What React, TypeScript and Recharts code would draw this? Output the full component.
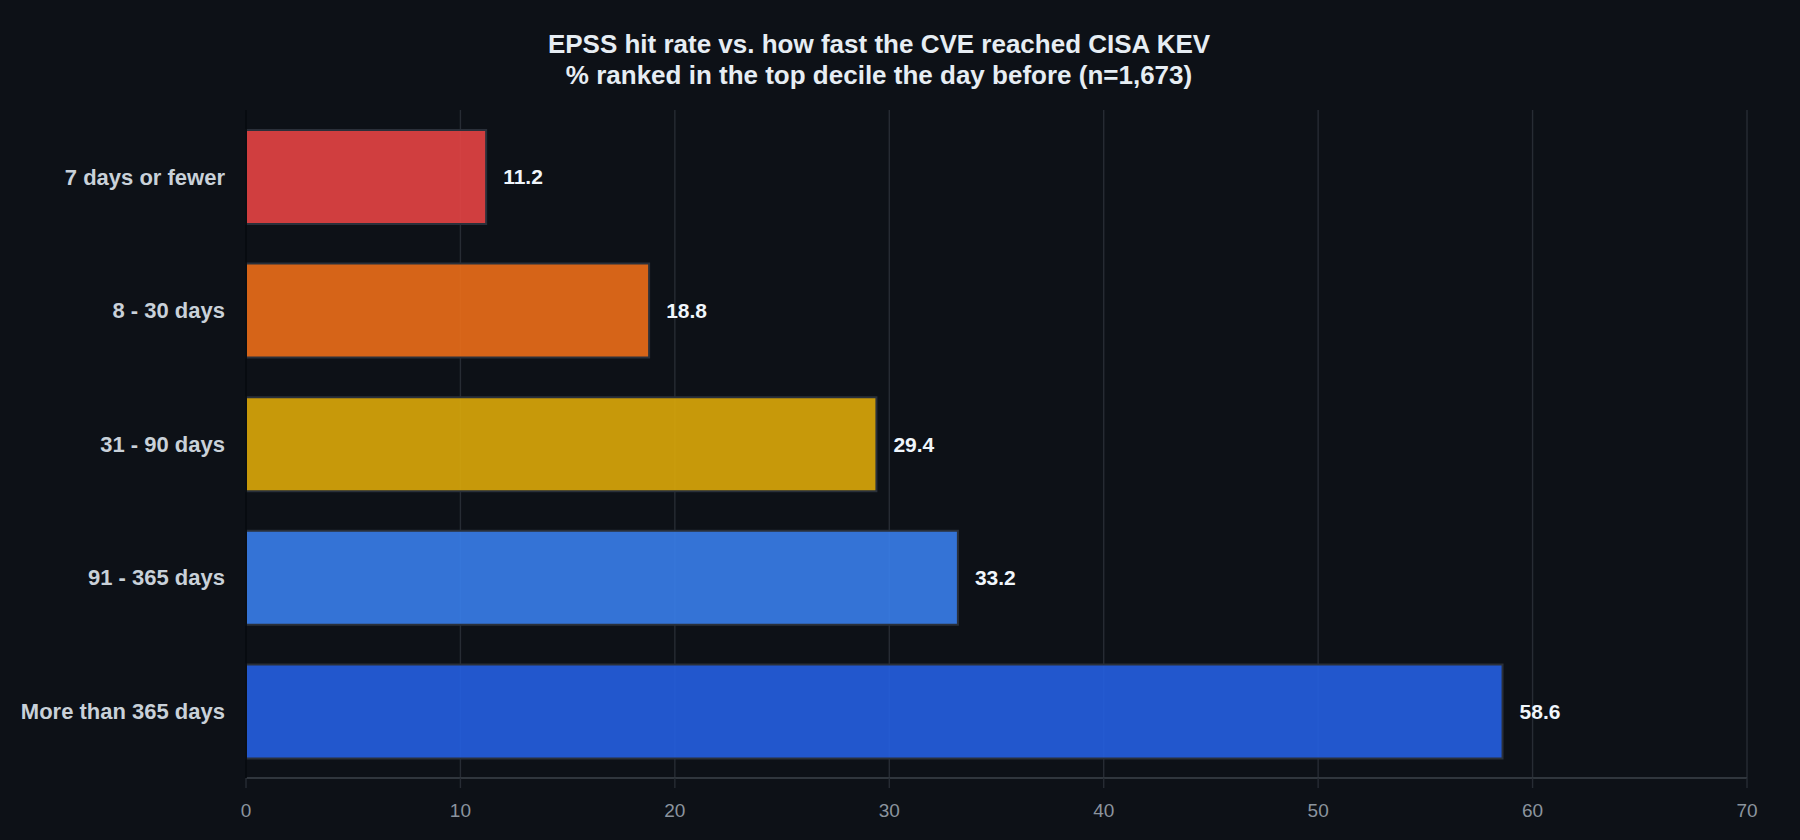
import React from "react";
import { BarChart, Bar, XAxis, YAxis, CartesianGrid, Cell, LabelList } from "recharts";

const categories = ["7 days or fewer", "8 - 30 days", "31 - 90 days", "91 - 365 days", "More than 365 days"];
const hitRates = [11.2, 18.8, 29.4, 33.2, 58.6];
const barColors = ["#e54444", "#ec6e18", "#dca909", "#397eeb", "#255fe1"];
const xTicks = [0, 10, 20, 30, 40, 50, 60, 70];
const titleLines = ["EPSS hit rate vs. how fast the CVE reached CISA KEV", "% ranked in the top decile the day before (n=1,673)"];

const data = categories.map((c, i) => ({ category: c, value: hitRates[i] }));

const FONT = '"Liberation Sans", Arial, Helvetica, sans-serif';

export default function App() {
  return (
    <div style={{ position: "fixed", left: 0, top: 0, width: 1800, height: 840, background: "#0d1117", fontFamily: FONT }}>
      <svg width={1800} height={120} style={{ position: "absolute", left: 0, top: 0 }}>
        <text x={879} y={53} textAnchor="middle" fill="#e6edf3" fontSize={26} fontWeight="bold" fontFamily={FONT}>{titleLines[0]}</text>
        <text x={879} y={84} textAnchor="middle" fill="#e6edf3" fontSize={26} fontWeight="bold" fontFamily={FONT}>{titleLines[1]}</text>
      </svg>
      <div style={{ position: "absolute", left: 0, top: 0 }}>
        <BarChart width={1800} height={840} data={data} layout="vertical" margin={{ top: 110, right: 53, bottom: 0, left: 0 }}>
          <CartesianGrid horizontal={false} stroke="#272c34" strokeWidth={1.4} />
          <XAxis
            type="number"
            domain={[0, 70]}
            ticks={xTicks}
            height={62}
            axisLine={{ stroke: "#30363d", strokeWidth: 2 }}
            tickLine={{ stroke: "#272c34", strokeWidth: 1.4 }}
            tickSize={10}
            tickMargin={16}
            tick={{ fill: "#8b949e", fontSize: 19, fontFamily: FONT }}
          />
          <YAxis
            type="category"
            dataKey="category"
            width={246}
            axisLine={{ stroke: "#010409", strokeWidth: 1.5 }}
            tickLine={false}
            tickSize={0}
            tickMargin={21}
            tick={{ fill: "#c9d1d9", fontSize: 22, fontWeight: "bold", fontFamily: FONT }}
          />
          <Bar dataKey="value" barSize={94} stroke="#2a303a" strokeWidth={2} fillOpacity={0.9} isAnimationActive={false}>
            {data.map((d, i) => (
              <Cell key={d.category} fill={barColors[i]} />
            ))}
            <LabelList
              dataKey="value"
              position="right"
              offset={17}
              fill="#f0f6fc"
              fontSize={21}
              fontWeight="bold"
              fontFamily={FONT}
              formatter={(v: number) => v.toFixed(1)}
            />
          </Bar>
        </BarChart>
      </div>
    </div>
  );
}
